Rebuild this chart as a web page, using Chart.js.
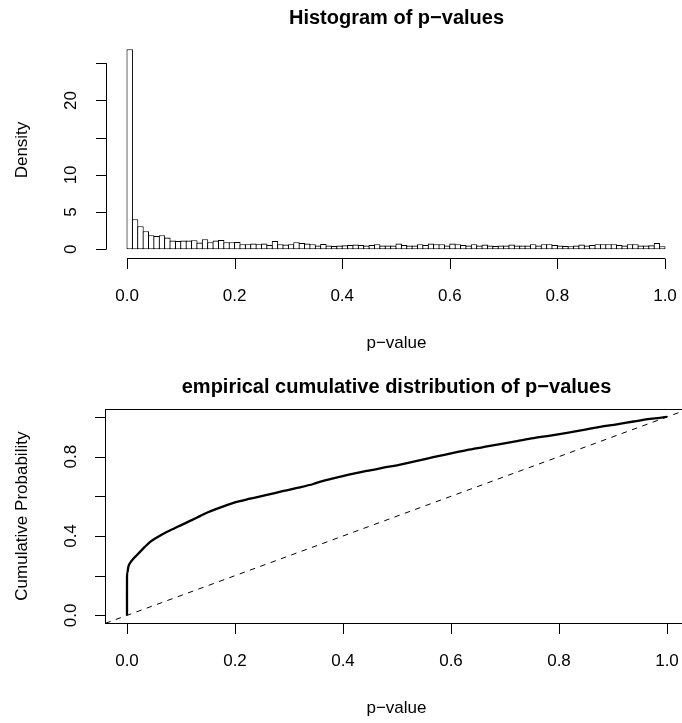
<!DOCTYPE html>
<html>
<head>
<meta charset="utf-8">
<script src="https://cdn.jsdelivr.net/npm/chart.js@4/dist/chart.umd.min.js"></script>
<style>
  body { margin: 0; background: #fff; }
  canvas { position: absolute; left: 0; }
</style>
</head>
<body>
<canvas id="histChart" width="682" height="362" style="top:0"></canvas>
<canvas id="ecdfChart" width="682" height="361" style="top:362px"></canvas>
<script>
// histogram densities, 100 bins of width 0.01 over [0, 1]
const histDensity = [
  26.9, 4.05, 3.1, 2.43, 1.89, 1.8, 1.89, 1.58, 1.17, 1.13, 1.17, 1.17, 1.22, 0.9, 1.35, 0.95, 1.17, 1.26, 0.95, 0.95, 0.99, 0.68, 0.68, 0.77,
  0.68, 0.77, 0.59, 1.13, 0.68, 0.63, 0.68, 0.95, 0.86, 0.77, 0.68, 0.5, 0.72, 0.5, 0.45, 0.5, 0.54, 0.59, 0.63, 0.59, 0.5, 0.59, 0.68, 0.5, 0.5,
  0.5, 0.77, 0.59, 0.5, 0.5, 0.68, 0.59, 0.77, 0.68, 0.68, 0.5, 0.77, 0.68, 0.59, 0.5, 0.68, 0.5, 0.63, 0.5, 0.45, 0.5, 0.5, 0.63, 0.5, 0.5,
  0.5, 0.68, 0.5, 0.68, 0.68, 0.59, 0.5, 0.45, 0.41, 0.5, 0.63, 0.5, 0.59, 0.68, 0.68, 0.68, 0.68, 0.59, 0.5, 0.68, 0.68, 0.5, 0.5, 0.54, 0.86, 0.41
];
const histBinWidth = 0.01;
const histXTicks = [0, 0.2, 0.4, 0.6, 0.8, 1.0];
const histXLabels = ['0.0', '0.2', '0.4', '0.6', '0.8', '1.0'];
const histYTicks = [0, 5, 10, 15, 20, 25];
const histYLabels = ['0', '5', '10', '', '20', ''];

// empirical cdf
const ecdfP = [0, 0.00001, 0.0005, 0.0025, 0.006, 0.0117, 0.018, 0.024, 0.033, 0.043,
  0.057, 0.0735, 0.089, 0.104, 0.12, 0.135, 0.15, 0.166, 0.181, 0.197,
  0.228, 0.259, 0.29, 0.32, 0.345, 0.36, 0.382, 0.413, 0.444, 0.475,
  0.506, 0.537, 0.567, 0.598, 0.629, 0.66, 0.691, 0.722, 0.753, 0.784,
  0.815, 0.846, 0.876, 0.907, 0.938, 0.969, 1.0];
const ecdfProb = [0, 0.19, 0.215, 0.245, 0.265, 0.285, 0.303, 0.32, 0.345, 0.37,
  0.395, 0.42, 0.44, 0.46, 0.48, 0.50, 0.52, 0.537, 0.552, 0.567,
  0.588, 0.607, 0.627, 0.645, 0.662, 0.675, 0.69, 0.71, 0.728, 0.744,
  0.76, 0.778, 0.797, 0.815, 0.833, 0.848, 0.863, 0.878, 0.893, 0.906,
  0.92, 0.935, 0.95, 0.963, 0.977, 0.99, 1.0];
const refLine = [-0.04, 1.04];
const ecdfXTicks = [0, 0.2, 0.4, 0.6, 0.8, 1.0];
const ecdfXLabels = ['0.0', '0.2', '0.4', '0.6', '0.8', '1.0'];
const ecdfYTicks = [0, 0.2, 0.4, 0.6, 0.8, 1.0];
const ecdfYLabels = ['0.0', '', '0.4', '', '0.8', ''];

const FONT = '"Liberation Sans", Arial, Helvetica, sans-serif';

// R style axes, titles and labels drawn on the chart's own scales
const rAxes = {
  id: 'rAxes',
  afterDraw(chart, args, o) {
    const ctx = chart.ctx, xs = chart.scales.x, ys = chart.scales.y, a = chart.chartArea;
    const tick = 10.5;
    ctx.save();
    ctx.strokeStyle = '#000';
    ctx.fillStyle = '#000';
    ctx.lineWidth = 1;

    if (o.box) {
      ctx.strokeRect(Math.round(a.left) + 0.5, Math.round(a.top) + 0.5, a.width + 10, Math.round(a.height));
    }

    // x axis
    const xy = Math.round(a.bottom) + 0.5;
    const x0 = xs.getPixelForValue(o.xTicks[0]);
    const x1 = xs.getPixelForValue(o.xTicks[o.xTicks.length - 1]);
    ctx.beginPath();
    ctx.moveTo(x0, xy); ctx.lineTo(x1, xy);
    o.xTicks.forEach(v => {
      const px = Math.round(xs.getPixelForValue(v)) + 0.5;
      ctx.moveTo(px, xy); ctx.lineTo(px, xy + tick);
    });
    ctx.stroke();
    ctx.font = '17px ' + FONT;
    ctx.textAlign = 'center';
    ctx.textBaseline = 'alphabetic';
    o.xTicks.forEach((v, i) => {
      ctx.fillText(o.xLabels[i], xs.getPixelForValue(v), xy + 42.7);
    });

    // y axis
    const yx = Math.round(a.left) + 0.5;
    const y0 = ys.getPixelForValue(o.yTicks[0]);
    const y1 = ys.getPixelForValue(o.yTicks[o.yTicks.length - 1]);
    ctx.beginPath();
    ctx.moveTo(yx, y0); ctx.lineTo(yx, y1);
    o.yTicks.forEach(v => {
      const py = Math.round(ys.getPixelForValue(v)) + 0.5;
      ctx.moveTo(yx, py); ctx.lineTo(yx - tick, py);
    });
    ctx.stroke();
    o.yTicks.forEach((v, i) => {
      if (!o.yLabels[i]) return;
      ctx.save();
      ctx.translate(75.5, ys.getPixelForValue(v));
      ctx.rotate(-Math.PI / 2);
      ctx.fillText(o.yLabels[i], 0, 0);
      ctx.restore();
    });

    // axis titles
    ctx.fillText(o.xTitle, 396.5, xy + 89.4);
    ctx.save();
    ctx.translate(22, (a.top + a.bottom) / 2);
    ctx.rotate(-Math.PI / 2);
    ctx.textBaseline = 'middle';
    ctx.fillText(o.yTitle, 0, 0);
    ctx.restore();

    // main title
    ctx.font = 'bold 20px ' + FONT;
    ctx.fillText(o.title, 396.5, o.titleY);
    ctx.restore();
  }
};

const histCtx = document.getElementById('histChart');
new Chart(histCtx, {
  type: 'bar',
  data: {
    datasets: [{
      label: 'Density',
      data: histDensity.map((d, i) => ({ x: (i + 0.5) * histBinWidth, y: d })),
      backgroundColor: '#fff',
      borderColor: '#000',
      borderSkipped: false,
      borderWidth: 1.1,
      // widen each bar by one border width so neighbouring outlines overlap like R's shared edges
      barPercentage: 1 + 1.1 / 5.38,
      categoryPercentage: 1
    }]
  },
  options: {
    responsive: false,
    animation: false,
    layout: { padding: { left: 105.5, top: 42, right: 0, bottom: 104 } },
    scales: {
      x: { type: 'linear', display: false, offset: false, min: -0.04, max: 1.0316 },
      y: { type: 'linear', display: false, min: -1.17, max: 27.86 }
    },
    plugins: {
      legend: { display: false },
      tooltip: { enabled: false },
      rAxes: {
        box: false,
        xTicks: histXTicks, xLabels: histXLabels,
        yTicks: histYTicks, yLabels: histYLabels,
        xTitle: 'p\u2212value', yTitle: 'Density',
        title: 'Histogram of p\u2212values', titleY: 23.5
      }
    }
  },
  plugins: [rAxes]
});

const ecdfCtx = document.getElementById('ecdfChart');
new Chart(ecdfCtx, {
  type: 'line',
  data: {
    datasets: [{
      label: 'ecdf',
      data: ecdfP.map((p, i) => ({ x: p, y: ecdfProb[i] })),
      borderColor: '#000',
      borderWidth: 2.3,
      pointRadius: 0,
      cubicInterpolationMode: 'monotone'
    }, {
      label: 'uniform',
      data: refLine.map(v => ({ x: v, y: v })),
      borderColor: '#000',
      borderWidth: 1,
      borderDash: [5.5, 5.5],
      pointRadius: 0
    }]
  },
  options: {
    responsive: false,
    animation: false,
    layout: { padding: { left: 105.4, top: 47, right: 0, bottom: 99.7 } },
    scales: {
      x: { type: 'linear', display: false, min: -0.04, max: 1.0278 },
      y: { type: 'linear', display: false, min: -0.04, max: 1.04 }
    },
    plugins: {
      legend: { display: false },
      tooltip: { enabled: false },
      rAxes: {
        box: true,
        xTicks: ecdfXTicks, xLabels: ecdfXLabels,
        yTicks: ecdfYTicks, yLabels: ecdfYLabels,
        xTitle: 'p\u2212value', yTitle: 'Cumulative Probability',
        title: 'empirical cumulative distribution of p\u2212values', titleY: 31
      }
    }
  },
  plugins: [rAxes]
});
</script>
</body>
</html>
